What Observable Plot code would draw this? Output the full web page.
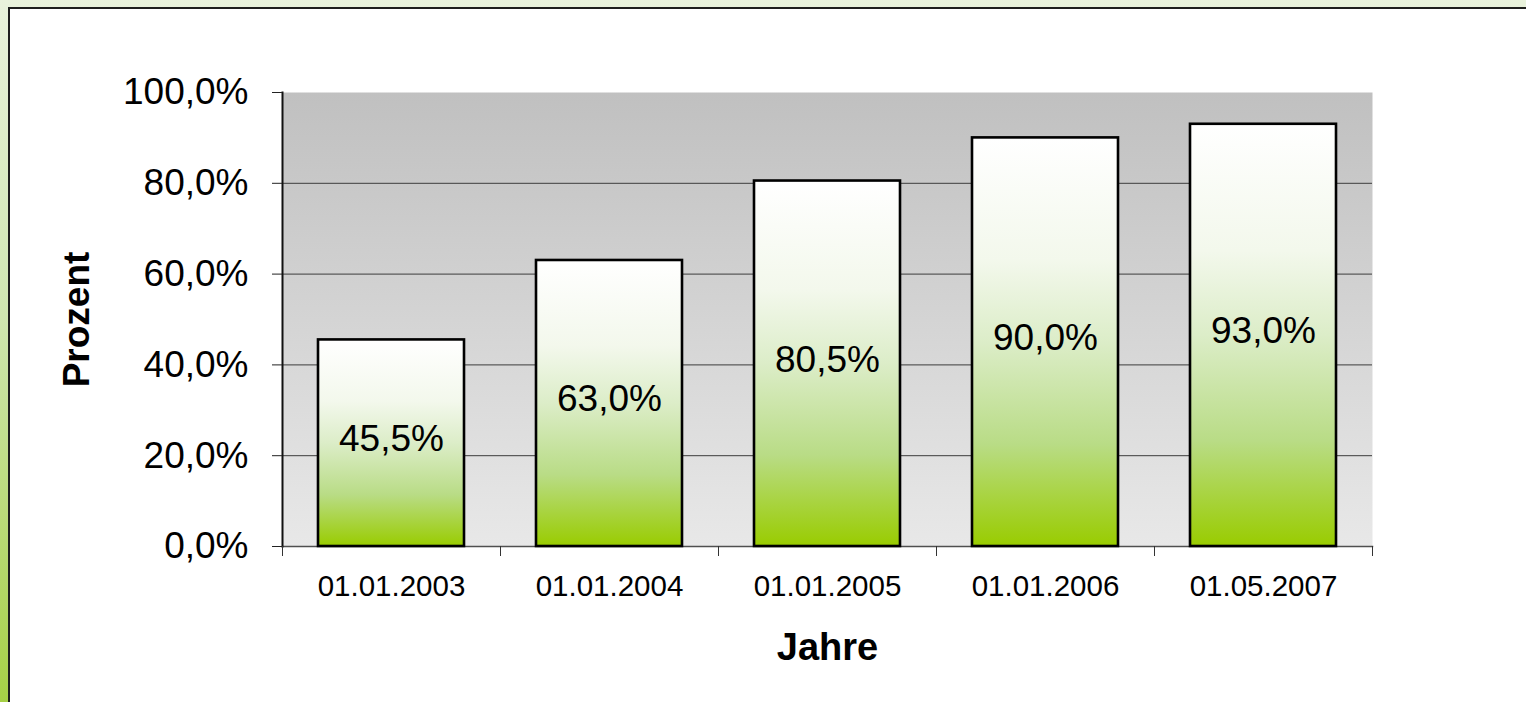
<!DOCTYPE html>
<html>
<head>
<meta charset="utf-8">
<script src="https://cdn.jsdelivr.net/npm/d3@7"></script>
<script src="https://cdn.jsdelivr.net/npm/@observablehq/plot@0.6"></script>
<style>
  html, body { margin: 0; padding: 0; }
  #page {
    position: relative; width: 1526px; height: 702px; overflow: hidden;
    background: linear-gradient(to bottom, #e9f2dc 0%, #cfe6b0 45%, #a6d046 100%);
  }
  #frame {
    position: absolute; left: 8px; top: 7px; width: 1600px; height: 800px;
    background: #ffffff; border-left: 2px solid #1e1e1e; border-top: 2px solid #1e1e1e;
  }
  #chart { position: absolute; left: 0; top: 0; }
</style>
</head>
<body>
<div id="page"><div id="frame"></div><div id="chart"></div></div>
<script>
const categories = ["01.01.2003", "01.01.2004", "01.01.2005", "01.01.2006", "01.05.2007"];
const values = [45.5, 63.0, 80.5, 90.0, 93.0];
const yTicks = [0, 20, 40, 60, 80, 100];
const gridValues = [20, 40, 60, 80];
const xTitle = "Jahre";
const yTitle = "Prozent";

const data = categories.map((c, i) => ({date: c, value: values[i]}));
const fmt = v => v.toFixed(1).replace(".", ",") + "%";

const W = 1526, H = 702;
const mL = 282, mR = 154, mT = 92, mB = 156;
const step = (W - mL - mR) / categories.length;
const font = "Liberation Sans, Arial, sans-serif";

const defs = () => {
  const ns = "http://www.w3.org/2000/svg";
  const d = document.createElementNS(ns, "defs");
  d.innerHTML = `
    <linearGradient id="bar-grad" x1="0" y1="0" x2="0" y2="1">
      <stop offset="0" stop-color="#ffffff"/>
      <stop offset="0.3" stop-color="#f3f8ec"/>
      <stop offset="0.5" stop-color="#dcedc8"/>
      <stop offset="0.75" stop-color="#b9dc86"/>
      <stop offset="1" stop-color="#99cc00"/>
    </linearGradient>
    <linearGradient id="bg-grad" x1="0" y1="0" x2="0" y2="1">
      <stop offset="0" stop-color="#c0c0c0"/>
      <stop offset="1" stop-color="#e8e8e8"/>
    </linearGradient>`;
  return d;
};

const plot = Plot.plot({
  width: W, height: H,
  marginLeft: mL, marginRight: mR, marginTop: mT, marginBottom: mB,
  style: {background: "transparent", fontFamily: font, color: "#000"},
  x: {type: "band", domain: categories, paddingInner: 0.33, paddingOuter: 0.165, label: null},
  y: {domain: [0, 100], label: null},
  marks: [
    defs,
    Plot.frame({fill: "url(#bg-grad)"}),
    Plot.ruleY(gridValues, {stroke: "#3c3c3c", strokeWidth: 1}),
    Plot.frame({anchor: "bottom", stroke: "#505050", strokeWidth: 1.5}),
    Plot.frame({anchor: "left", stroke: "#111", strokeWidth: 2}),
    Plot.axisY({ticks: yTicks, tickSize: 10, tickPadding: 24, tickFormat: fmt, fontSize: 37, label: null, stroke: "#222"}),
    Plot.axisX({tickSize: 0, tickPadding: 29, fontSize: 29.5, label: null}),
    Plot.axisX({tickSize: 10, fill: "none", dx: -step / 2, label: null, stroke: "#333"}),
    Plot.axisX([categories[categories.length - 1]], {tickSize: 10, fill: "none", dx: step / 2, label: null, stroke: "#333"}),
    Plot.barY(data, {x: "date", y: "value", fill: "url(#bar-grad)", stroke: "#000", strokeWidth: 2.6}),
    Plot.text(data, {x: "date", y: d => d.value / 2, text: d => fmt(d.value), fontSize: 37, dy: -4, fill: "#000"}),
    Plot.text([xTitle], {frameAnchor: "bottom", text: d => d, dy: 113, lineAnchor: "bottom", fontSize: 38, fontWeight: "bold", fill: "#000"}),
    Plot.text([yTitle], {frameAnchor: "left", textAnchor: "middle", text: d => d, dx: -194, rotate: -90, lineAnchor: "bottom", fontSize: 37, fontWeight: "bold", fill: "#000"})
  ]
});
document.getElementById("chart").appendChild(plot);
</script>
</body>
</html>
